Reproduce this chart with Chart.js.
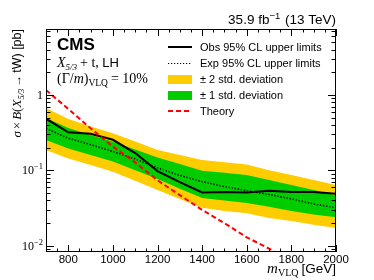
<!DOCTYPE html>
<html><head><meta charset="utf-8">
<script src="https://cdn.jsdelivr.net/npm/chart.js@4/dist/chart.umd.min.js"></script>
<style>html,body{margin:0;padding:0;background:#fff;overflow:hidden}</style>
</head><body>
<canvas id="c" width="374" height="280" style="display:block;width:374px;height:280px"></canvas>
<script>
// ---- data ----
const masses      = [700, 800, 900, 1000, 1100, 1200, 1300, 1400, 1500, 1600, 1700, 1800, 1900, 2000];
const observed    = [0.485, 0.320, 0.306, 0.255, 0.170, 0.098, 0.070, 0.051, 0.052, 0.051, 0.054, 0.052, 0.052, 0.049];
const expected    = [0.360, 0.267, 0.220, 0.178, 0.142, 0.108, 0.086, 0.071, 0.061, 0.054, 0.048, 0.042, 0.036, 0.032];
const sigma1Up    = [0.496, 0.366, 0.295, 0.241, 0.190, 0.148, 0.122, 0.099, 0.093, 0.087, 0.075, 0.064, 0.055, 0.047];
const sigma1Down  = [0.253, 0.196, 0.160, 0.131, 0.101, 0.077, 0.057, 0.043, 0.040, 0.037, 0.033, 0.029, 0.026, 0.024];
const sigma2Up    = [0.673, 0.481, 0.383, 0.311, 0.242, 0.187, 0.160, 0.138, 0.128, 0.120, 0.101, 0.087, 0.075, 0.064];
const sigma2Down  = [0.187, 0.144, 0.118, 0.096, 0.073, 0.055, 0.042, 0.032, 0.029, 0.027, 0.0235, 0.0214, 0.019, 0.0173];
const theory      = [1.165, 0.653, 0.362, 0.207, 0.128, 0.074, 0.047, 0.030, 0.020, 0.013, 0.0092, 0.0063, 0.0044, 0.0031];
const xTickLabels = [800, 1000, 1200, 1400, 1600, 1800, 2000];
const yTickValues = [1, 0.1, 0.01];
const yTickLabels = [["1", ""], ["10", "\u22121"], ["10", "\u22122"]];
const legendLabels = ["Obs 95% CL upper limits", "Exp 95% CL upper limits", "\u00B1 2 std. deviation", "\u00B1 1 std. deviation", "Theory"];

const SANS = '"Liberation Sans", Arial, sans-serif';
const SERIF = '"Liberation Serif", "Times New Roman", serif';
const YELLOW = 'rgb(255,204,0)';
const GREEN = 'rgb(0,204,0)';
const RED = 'rgb(255,0,0)';

const pts = arr => masses.map((m, i) => ({x: m, y: arr[i]}));

function rich(ctx, segs, x, y, align) {
  let total = 0;
  for (const s of segs) { ctx.font = s.f; total += ctx.measureText(s.t).width + (s.gap || 0); }
  let cx = align === 'right' ? x - total : (align === 'center' ? x - total / 2 : x);
  ctx.textAlign = 'left';
  ctx.textBaseline = 'alphabetic';
  for (const s of segs) {
    ctx.font = s.f;
    ctx.fillText(s.t, cx, y + (s.dy || 0));
    cx += ctx.measureText(s.t).width + (s.gap || 0);
  }
  return total;
}

const decor = {
  id: 'decor',
  afterDraw(chart) {
    const ctx = chart.ctx;
    const a = chart.chartArea;
    const xs = chart.scales.x, ys = chart.scales.y;
    ctx.save();
    ctx.fillStyle = '#000';
    ctx.strokeStyle = '#000';
    ctx.lineWidth = 1;
    // frame
    ctx.strokeRect(a.left + 0.5, a.top + 0.5, a.right - a.left - 1, a.bottom - a.top - 1);
    // x ticks (inward, bottom and top)
    ctx.beginPath();
    for (let m = 700; m <= 2000; m += 50) {
      const px = Math.round(xs.getPixelForValue(m)) + 0.5;
      const len = (m % 200 === 0) ? 7 : 3.5;
      ctx.moveTo(px, a.bottom); ctx.lineTo(px, a.bottom - len);
      ctx.moveTo(px, a.top); ctx.lineTo(px, a.top + len);
    }
    // y ticks (inward, left and right)
    for (let k = -3; k <= 0; k++) {
      for (let d = 1; d <= 9; d++) {
        const v = d * Math.pow(10, k);
        if (v < ys.min || v > ys.max) continue;
        const py = Math.round(ys.getPixelForValue(v)) + 0.5;
        const len = d === 1 ? 8 : 4.5;
        ctx.moveTo(a.left, py); ctx.lineTo(a.left + len, py);
        ctx.moveTo(a.right, py); ctx.lineTo(a.right - len, py);
      }
    }
    ctx.stroke();
    // x tick labels
    ctx.font = '11.5px ' + SANS;
    ctx.textAlign = 'center';
    ctx.textBaseline = 'alphabetic';
    for (const v of xTickLabels) ctx.fillText(String(v), xs.getPixelForValue(v), a.bottom + 11);
    // y tick labels
    yTickValues.forEach((v, i) => {
      const py = ys.getPixelForValue(v);
      const [b, e] = yTickLabels[i];
      const segs = [{t: b, f: '12px ' + SERIF}];
      if (e) segs.push({t: e, f: '8.5px ' + SERIF, dy: -5});
      rich(ctx, segs, a.left - 3, py + 4, 'right');
    });
    // x title
    rich(ctx, [
      {t: 'm', f: 'italic 15px ' + SERIF},
      {t: 'VLQ', f: '10px ' + SERIF, dy: 3, gap: 3},
      {t: '[GeV]', f: '13.5px ' + SANS}
    ], a.right, 273, 'right');
    // y title (rotated)
    ctx.save();
    ctx.translate(21, a.top);
    ctx.rotate(-Math.PI / 2);
    rich(ctx, [
      {t: '\u03C3', f: 'italic 13px ' + SERIF, gap: 2},
      {t: '\u00D7', f: '13px ' + SERIF, gap: 2},
      {t: 'B', f: 'italic 13px ' + SERIF},
      {t: '(', f: '13px ' + SERIF},
      {t: 'X', f: 'italic 13px ' + SERIF},
      {t: '5/3', f: 'italic 8.5px ' + SERIF, dy: 3, gap: 2},
      {t: '\u2192', f: '12px ' + SANS, gap: 2},
      {t: 'tW) [pb]', f: '12.5px ' + SANS}
    ], 0, 0, 'right');
    ctx.restore();
    // top-right title
    rich(ctx, [
      {t: '35.9 fb', f: '13.5px ' + SANS},
      {t: '\u22121', f: '9.5px ' + SANS, dy: -5, gap: 1},
      {t: ' (13 TeV)', f: '13.5px ' + SANS}
    ], a.right, 24, 'right');
    // CMS labels
    ctx.font = 'bold 17px ' + SANS;
    ctx.textAlign = 'left';
    ctx.fillText('CMS', 57, 50);
    rich(ctx, [
      {t: 'X', f: 'italic 14px ' + SERIF},
      {t: '5/3', f: 'italic 9px ' + SERIF, dy: 3, gap: 3},
      {t: '+ t, ', f: '14px ' + SERIF},
      {t: 'LH', f: '13px ' + SANS}
    ], 57, 67, 'left');
    rich(ctx, [
      {t: '(\u0393/', f: '14px ' + SERIF},
      {t: 'm', f: 'italic 14px ' + SERIF},
      {t: ')', f: '14px ' + SERIF},
      {t: 'VLQ', f: '9.5px ' + SERIF, dy: 3, gap: 3},
      {t: '= 10%', f: '14px ' + SERIF}
    ], 57, 83, 'left');
    // legend
    const lx0 = 168, lx1 = 192, tx = 200;
    const rows = [47, 63, 79, 95, 111];
    ctx.lineCap = 'butt';
    // obs
    ctx.setLineDash([]); ctx.lineWidth = 2; ctx.strokeStyle = '#000';
    ctx.beginPath(); ctx.moveTo(lx0, rows[0]); ctx.lineTo(lx1, rows[0]); ctx.stroke();
    // exp
    ctx.setLineDash([1.2, 1.8]); ctx.lineWidth = 1.2;
    ctx.beginPath(); ctx.moveTo(lx0, rows[1] + 0.5); ctx.lineTo(lx1, rows[1] + 0.5); ctx.stroke();
    ctx.setLineDash([]);
    // boxes
    ctx.fillStyle = YELLOW; ctx.fillRect(lx0, rows[2] - 4, lx1 - lx0, 9);
    ctx.fillStyle = GREEN; ctx.fillRect(lx0, rows[3] - 4, lx1 - lx0, 9);
    // theory
    ctx.strokeStyle = RED; ctx.lineWidth = 2; ctx.setLineDash([5, 3]);
    ctx.beginPath(); ctx.moveTo(lx0, rows[4]); ctx.lineTo(lx1, rows[4]); ctx.stroke();
    ctx.setLineDash([]);
    ctx.fillStyle = '#000';
    legendLabels.forEach((t, i) => {
      ctx.font = '11px ' + SANS;
      ctx.textAlign = 'left';
      ctx.fillText(t, tx, rows[i] + 4);
    });
    ctx.restore();
  }
};

const lineDs = (label, arr, extra) => Object.assign({
  label, data: pts(arr), pointRadius: 0, tension: 0, fill: false, borderWidth: 0
}, extra);

new Chart(document.getElementById('c'), {
  type: 'line',
  data: {
    datasets: [
      lineDs('Theory', theory, {borderColor: RED, borderWidth: 2, borderDash: [5, 3], order: 0}),
      lineDs('Observed', observed, {borderColor: '#000', borderWidth: 2, order: 1}),
      lineDs('Expected', expected, {borderColor: '#000', borderWidth: 1.4, borderDash: [1.4, 1.7], order: 2}),
      lineDs('1sigma up', sigma1Up, {borderColor: 'rgba(0,0,0,0)', backgroundColor: GREEN, fill: '+1', order: 3}),
      lineDs('1sigma down', sigma1Down, {borderColor: 'rgba(0,0,0,0)', order: 4}),
      lineDs('2sigma up', sigma2Up, {borderColor: 'rgba(0,0,0,0)', backgroundColor: YELLOW, fill: '+1', order: 5}),
      lineDs('2sigma down', sigma2Down, {borderColor: 'rgba(0,0,0,0)', order: 6})
    ]
  },
  options: {
    responsive: false,
    animation: false,
    devicePixelRatio: 1,
    layout: {padding: {left: 46, right: 38, top: 29, bottom: 28}},
    scales: {
      x: {type: 'linear', min: 700, max: 2000, display: false},
      y: {type: 'logarithmic', min: 0.0083, max: 7.5, display: false}
    },
    plugins: {legend: {display: false}, tooltip: {enabled: false}, filler: {propagate: false}},
    events: []
  },
  plugins: [decor]
});
</script>
</body></html>
